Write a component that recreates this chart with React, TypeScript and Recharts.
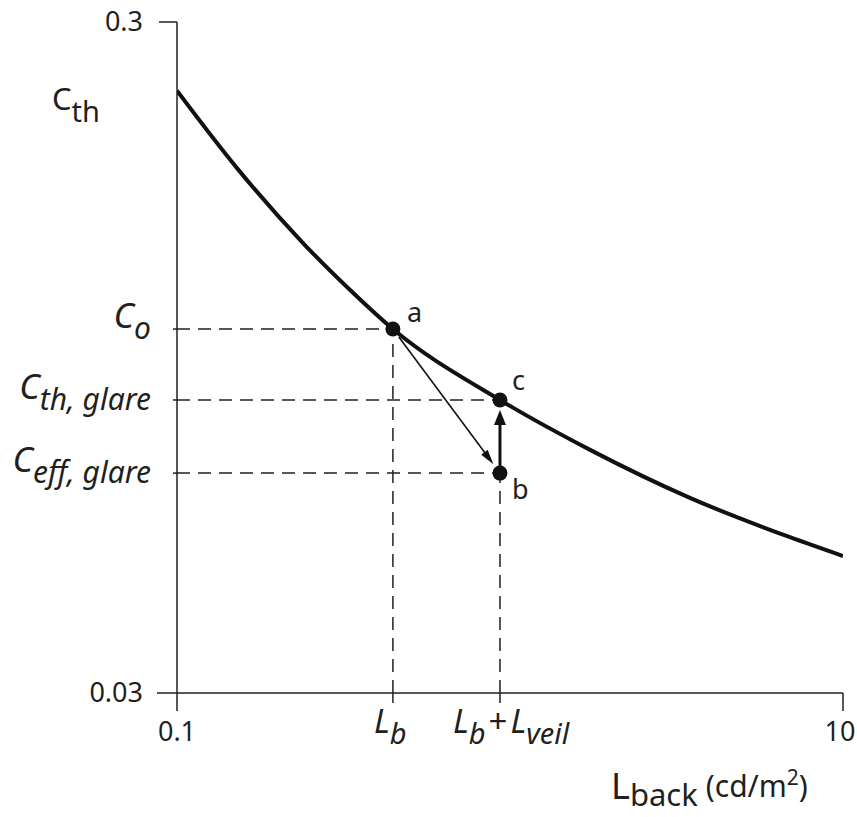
import { ComposedChart, Line, Scatter, XAxis, YAxis, ReferenceLine } from "recharts";

// threshold contrast curve (log-log)
const curveLum = [0.1, 0.151, 0.239, 0.331, 0.445, 0.933, 1.74, 3.47, 6.93, 10];
const curveCth = [0.237, 0.182, 0.1405, 0.1196, 0.1046, 0.082, 0.0691, 0.0586, 0.0512, 0.048];

const L_B = 0.445;
const L_B_VEIL = 0.933;
const C_O = 0.1046;
const C_TH_GLARE = 0.082;
const C_EFF_GLARE = 0.0638;

const pointNames = ["a", "b", "c"];
const pointLum = [L_B, L_B_VEIL, L_B_VEIL];
const pointC = [C_O, C_EFF_GLARE, C_TH_GLARE];

const xTicks = [0.1, L_B, L_B_VEIL, 10];
const yTicks = [0.03, C_EFF_GLARE, C_TH_GLARE, C_O, 0.3];

const INK = "#231f20";
const FONT = "'Noto Sans', sans-serif";

const curveData = curveLum.map((x, i) => ({ x, y: curveCth[i] }));
const pointData = pointNames.map((name, i) => ({ x: pointLum[i], y: pointC[i], name }));

function XTick({ x, y, payload }: any) {
  const v = payload.value;
  if (v === 0.1 || v === 10) {
    return (
      <g>
        <line x1={x} y1={y} x2={x} y2={y + 18} stroke={INK} strokeWidth={1.5} />
        <text x={v === 10 ? x - 3 : x} y={y + 48} textAnchor="middle" fontSize={27} fill={INK} fontFamily={FONT}>
          {v === 0.1 ? "0.1" : "10"}
        </text>
      </g>
    );
  }
  const isVeil = v === L_B_VEIL;
  return (
    <g>
      <line x1={x} y1={y} x2={x} y2={y + 10} stroke={INK} strokeWidth={1.5} />
      <text
        x={isVeil ? x - 47 : x - 19}
        y={y + 40}
        fontStyle="italic"
        fill={INK}
        fontFamily={FONT}
        fontSize={33}
      >
        <tspan>L</tspan>
        <tspan fontSize={29} dy={11}>b</tspan>
        {isVeil && (
          <>
            <tspan dy={-11} dx={3} fontStyle="normal">+</tspan>
            <tspan dx={3}>L</tspan>
            <tspan fontSize={29} dy={11}>veil</tspan>
          </>
        )}
      </text>
    </g>
  );
}

function YTick({ x, y, payload }: any) {
  const v = payload.value;
  if (v === 0.3 || v === 0.03) {
    return (
      <g>
        <line x1={x - (v === 0.3 ? 18 : 20)} y1={y} x2={x} y2={y} stroke={INK} strokeWidth={1.5} />
        <text x={x - 34} y={y + 9} textAnchor="end" fontSize={27} fill={INK} fontFamily={FONT}>
          {v === 0.3 ? "0.3" : "0.03"}
        </text>
      </g>
    );
  }
  const sub = v === C_O ? "o" : v === C_TH_GLARE ? "th, glare" : "eff, glare";
  return (
    <g>
      <line x1={x - 4} y1={y} x2={x} y2={y} stroke={INK} strokeWidth={1.5} />
      <text x={x - 26} y={y - 1} textAnchor="end" fontStyle="italic" fill={INK} fontFamily={FONT} fontSize={35}>
        <tspan>C</tspan>
        <tspan fontSize={30} dy={11}>{sub}</tspan>
      </text>
    </g>
  );
}

const labelOffset: Record<string, [number, number]> = { a: [14, -7], b: [12, 26], c: [12, -10] };

function PointDot({ cx, cy, payload }: any) {
  const [dx, dy] = labelOffset[payload.name];
  return (
    <g>
      <circle cx={cx} cy={cy} r={7.5} fill="#111" />
      <text x={cx + dx} y={cy + dy} fontSize={27} fill={INK} fontFamily={FONT}>
        {payload.name}
      </text>
    </g>
  );
}

function arrow(cutStart: number, cutEnd: number, width: number, headLen: number, headHalf: number) {
  return (p: any) => {
    const x1 = Number(p.x1), y1 = Number(p.y1), x2 = Number(p.x2), y2 = Number(p.y2);
    const len = Math.hypot(x2 - x1, y2 - y1);
    const ux = (x2 - x1) / len;
    const uy = (y2 - y1) / len;
    const sx = x1 + ux * cutStart;
    const sy = y1 + uy * cutStart;
    const tx = x2 - ux * cutEnd;
    const ty = y2 - uy * cutEnd;
    const bx = tx - ux * headLen;
    const by = ty - uy * headLen;
    return (
      <g>
        <line x1={sx} y1={sy} x2={bx + ux * 2} y2={by + uy * 2} stroke="#111" strokeWidth={width} />
        <polygon
          points={`${tx},${ty} ${bx - uy * headHalf},${by + ux * headHalf} ${bx + uy * headHalf},${by - ux * headHalf}`}
          fill="#111"
        />
      </g>
    );
  };
}

const dash = { stroke: INK, strokeWidth: 1.5, strokeDasharray: "13 8" };

export default function App() {
  return (
    <div style={{ position: "absolute", left: 0, top: 0, background: "#fff" }}>
      <ComposedChart width={857} height={817} margin={{ top: 22, right: 14, bottom: 64, left: 77 }}>
        <XAxis
          dataKey="x"
          type="number"
          scale="log"
          domain={[0.1, 10]}
          ticks={xTicks}
          interval={0}
          allowDataOverflow
          height={60}
          tickSize={0}
          tickMargin={0}
          tickLine={false}
          tick={<XTick />}
          axisLine={{ stroke: INK, strokeWidth: 1.5 }}
          label={{
            content: ({ viewBox }: any) => (
              <text x={viewBox.x + 434} y={viewBox.y + 106} fill={INK} fontFamily={FONT} fontSize={36}>
                <tspan>L</tspan>
                <tspan fontSize={31} dy={7}>back</tspan>
                <tspan fontSize={30} dx={8} dy={-9}>(cd/m</tspan>
                <tspan fontSize={21} dy={-12}>2</tspan>
                <tspan fontSize={30} dy={12}>)</tspan>
              </text>
            ),
          }}
        />
        <YAxis
          type="number"
          scale="log"
          domain={[0.03, 0.3]}
          ticks={yTicks}
          interval={0}
          allowDataOverflow
          width={100}
          tickSize={0}
          tickMargin={0}
          tickLine={false}
          tick={<YTick />}
          axisLine={{ stroke: INK, strokeWidth: 1.5 }}
          label={{
            content: ({ viewBox }: any) => (
              <text x={viewBox.x - 25} y={viewBox.y + 88} fill={INK} fontFamily={FONT} fontSize={31}>
                <tspan>C</tspan>
                <tspan fontSize={29} dy={12}>th</tspan>
              </text>
            ),
          }}
        />

        <ReferenceLine segment={[{ x: 0.1, y: C_O }, { x: L_B, y: C_O }]} {...dash} />
        <ReferenceLine segment={[{ x: L_B, y: 0.03 }, { x: L_B, y: C_O }]} {...dash} />
        <ReferenceLine segment={[{ x: 0.1, y: C_TH_GLARE }, { x: L_B_VEIL, y: C_TH_GLARE }]} {...dash} />
        <ReferenceLine segment={[{ x: 0.1, y: C_EFF_GLARE }, { x: L_B_VEIL, y: C_EFF_GLARE }]} {...dash} />
        <ReferenceLine segment={[{ x: L_B_VEIL, y: 0.03 }, { x: L_B_VEIL, y: C_EFF_GLARE }]} {...dash} />

        <Line
          data={curveData}
          dataKey="y"
          type="monotone"
          stroke="#111"
          strokeWidth={4}
          dot={false}
          activeDot={false}
          isAnimationActive={false}
        />

        <ReferenceLine
          segment={[{ x: L_B, y: C_O }, { x: L_B_VEIL, y: C_EFF_GLARE }]}
          shape={arrow(10, 11, 1.6, 15, 4)}
        />
        <ReferenceLine
          segment={[{ x: L_B_VEIL, y: C_EFF_GLARE }, { x: L_B_VEIL, y: C_TH_GLARE }]}
          shape={arrow(0, 10, 3, 15, 6)}
        />

        <Scatter data={pointData} dataKey="y" shape={<PointDot />} isAnimationActive={false} />
      </ComposedChart>
    </div>
  );
}
